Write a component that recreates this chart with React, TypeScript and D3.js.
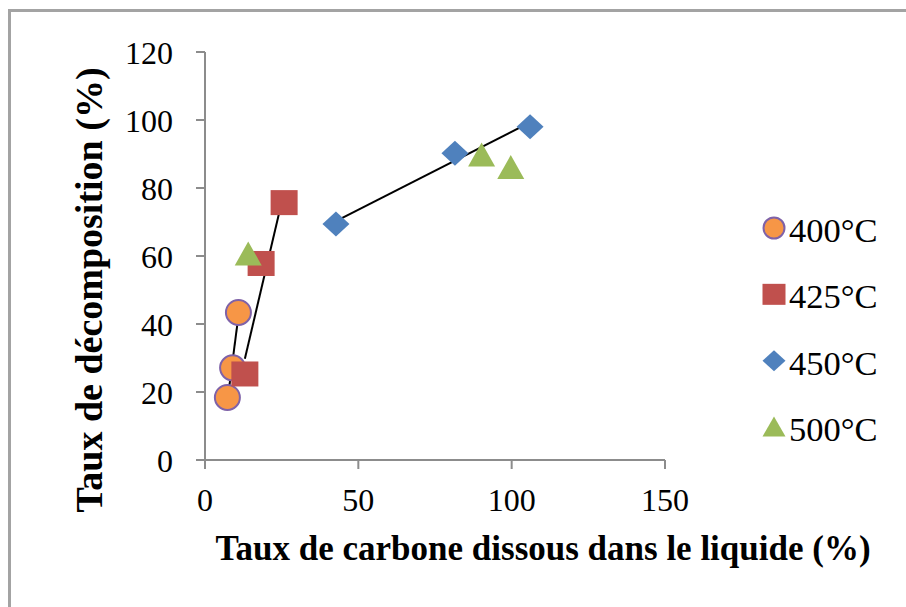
import React from "react";
import * as d3 from "d3";

const series400X = [7.3, 9.0, 10.9];
const series400Y = [18.4, 27.1, 43.4];
const series425X = [13.0, 18.3, 25.8];
const series425Y = [25.3, 57.8, 75.7];
const series450X = [42.7, 81.5, 106.0];
const series450Y = [69.4, 90.2, 98.0];
const series500X = [14.1, 90.2, 99.7];
const series500Y = [60.6, 89.7, 86.0];
const seriesNames = ["400°C", "425°C", "450°C", "500°C"];
const xTicks = [0, 50, 100, 150];
const yTicks = [0, 20, 40, 60, 80, 100, 120];

const W = 906;
const H = 607;
const FONT = "'Liberation Serif', 'Times New Roman', serif";

type S = { name: string; xs: number[]; ys: number[]; shape: string; fill: string; stroke: string; trend: boolean };

const series: S[] = [
  { name: seriesNames[0], xs: series400X, ys: series400Y, shape: "circle", fill: "#f79646", stroke: "#7f62a8", trend: true },
  { name: seriesNames[1], xs: series425X, ys: series425Y, shape: "square", fill: "#c0504d", stroke: "none", trend: true },
  { name: seriesNames[2], xs: series450X, ys: series450Y, shape: "diamond", fill: "#4f81bd", stroke: "none", trend: true },
  { name: seriesNames[3], xs: series500X, ys: series500Y, shape: "triangle", fill: "#9bbb59", stroke: "none", trend: false },
];

function Marker({ shape, fill, stroke, cx, cy, size }: { shape: string; fill: string; stroke: string; cx: number; cy: number; size: number }) {
  if (shape === "circle") {
    return <circle cx={cx} cy={cy} r={size / 2 - 1} fill={fill} stroke={stroke} strokeWidth={2} />;
  }
  if (shape === "square") {
    return <rect x={cx - size / 2} y={cy - size / 2 + 1} width={size} height={size - 2} fill={fill} />;
  }
  if (shape === "diamond") {
    const h = size / 2;
    return <path d={`M${cx},${cy - h + 1}L${cx + h},${cy}L${cx},${cy + h - 1}L${cx - h},${cy}Z`} fill={fill} />;
  }
  const h = size / 2;
  return <path d={`M${cx},${cy - h + 1}L${cx + h},${cy + h - 2}L${cx - h},${cy + h - 2}Z`} fill={fill} />;
}

function regression(xs: number[], ys: number[]) {
  const mx = d3.mean(xs) as number;
  const my = d3.mean(ys) as number;
  let sxy = 0;
  let sxx = 0;
  xs.forEach((x, i) => {
    sxy += (x - mx) * (ys[i] - my);
    sxx += (x - mx) * (x - mx);
  });
  const b = sxy / sxx;
  const a = my - b * mx;
  return (x: number) => a + b * x;
}

export default function App() {
  const x = d3.scaleLinear().domain([0, 150]).range([205, 665]);
  const y = d3.scaleLinear().domain([0, 120]).range([460, 52]);
  const axisColor = "#8c8c8c";
  const legendY = d3.scaleLinear().domain([0, 3]).range([228, 427]);

  return (
    <div style={{ position: "fixed", left: 0, top: 0 }}>
      <svg width={W} height={H} style={{ display: "block", background: "#fff" }}>
        <rect x={0} y={0} width={W} height={H} fill="#fff" />
        <path d={`M9.5,${H}V10.5H${W}`} fill="none" stroke="#a3a3a3" strokeWidth={3} />

        {/* axes */}
        <line x1={x(0)} x2={x(150)} y1={y(0)} y2={y(0)} stroke={axisColor} strokeWidth={2} />
        <line x1={x(0)} x2={x(0)} y1={y(0)} y2={y(120)} stroke={axisColor} strokeWidth={2} />
        {xTicks.map((t) => (
          <g key={"xt" + t}>
            <line x1={x(t)} x2={x(t)} y1={y(0)} y2={y(0) + 9} stroke={axisColor} strokeWidth={2} />
            <text x={x(t)} y={511} textAnchor="middle" fontFamily={FONT} fontSize={32} fill="#000">
              {t}
            </text>
          </g>
        ))}
        {yTicks.map((t) => (
          <g key={"yt" + t}>
            <line x1={x(0) - 9} x2={x(0)} y1={y(t)} y2={y(t)} stroke={axisColor} strokeWidth={2} />
            <text x={173} y={y(t) + 12} textAnchor="end" fontFamily={FONT} fontSize={32} fill="#000">
              {t}
            </text>
          </g>
        ))}

        {/* trendlines */}
        {series
          .filter((s) => s.trend)
          .map((s) => {
            const f = regression(s.xs, s.ys);
            const x0 = d3.min(s.xs) as number;
            const x1 = d3.max(s.xs) as number;
            return (
              <line key={"tl" + s.name} x1={x(x0)} y1={y(f(x0))} x2={x(x1)} y2={y(f(x1))} stroke="#000" strokeWidth={2} />
            );
          })}

        {/* markers */}
        {series.map((s) =>
          s.xs.map((vx, i) => (
            <Marker key={s.name + i} shape={s.shape} fill={s.fill} stroke={s.stroke} cx={x(vx)} cy={y(s.ys[i])} size={27} />
          ))
        )}

        {/* legend */}
        {series.map((s, i) => (
          <g key={"lg" + s.name}>
            <Marker shape={s.shape} fill={s.fill} stroke={s.stroke} cx={774} cy={legendY(i)} size={23} />
            <text x={789} y={legendY(i) + 14} fontFamily={FONT} fontSize={34.5} fill="#000">
              {s.name}
            </text>
          </g>
        ))}

        {/* axis titles */}
        <text x={543} y={560} textAnchor="middle" fontFamily={FONT} fontWeight="bold" fontSize={35} fill="#000">
          Taux de carbone dissous dans le liquide (%)
        </text>
        <text
          transform={`translate(102,290) rotate(-90)`}
          textAnchor="middle"
          fontFamily={FONT}
          fontWeight="bold"
          fontSize={38}
          fill="#000"
        >
          Taux de décomposition (%)
        </text>
      </svg>
    </div>
  );
}
